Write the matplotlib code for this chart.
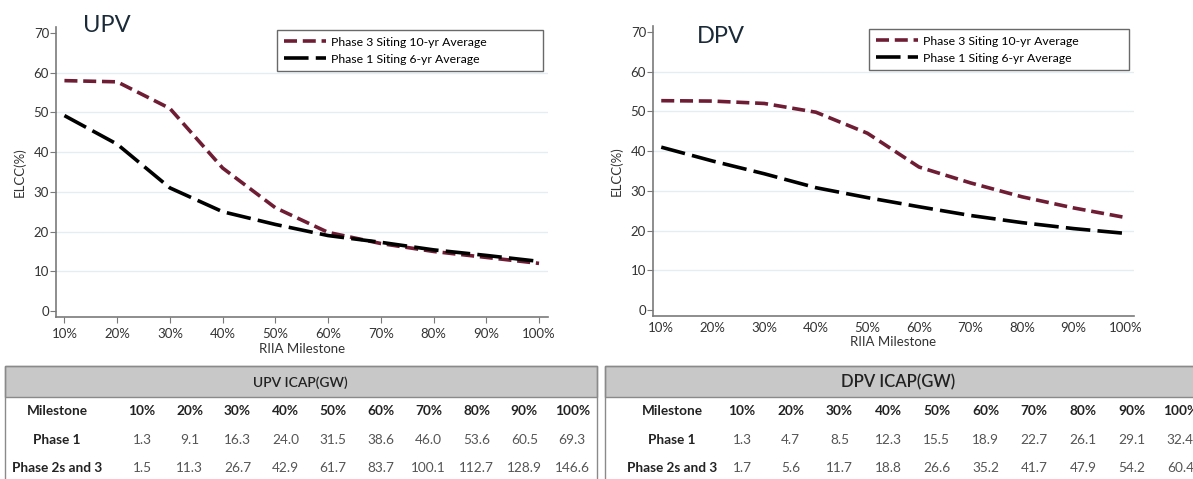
import matplotlib.pyplot as plt
from matplotlib.patches import Rectangle

plt.rcParams['font.family'] = ['Lato', 'DejaVu Sans']

milestones = [10, 20, 30, 40, 50, 60, 70, 80, 90, 100]
milestone_labels = ['10%', '20%', '30%', '40%', '50%', '60%', '70%', '80%', '90%', '100%']

# ELCC (%)
upv_phase3 = [58.0, 57.7, 51.0, 36.0, 26.0, 19.8, 17.0, 15.0, 13.5, 12.0]
upv_phase1 = [49.2, 42.0, 31.0, 25.0, 21.8, 19.0, 17.3, 15.4, 14.0, 12.5]
dpv_phase3 = [52.7, 52.6, 52.0, 49.8, 44.5, 36.0, 32.0, 28.5, 25.7, 23.3]
dpv_phase1 = [41.0, 37.5, 34.3, 30.8, 28.3, 26.0, 23.8, 22.0, 20.5, 19.3]

# ICAP (GW) tables
upv_icap_p1 = ['1.3', '9.1', '16.3', '24.0', '31.5', '38.6', '46.0', '53.6', '60.5', '69.3']
upv_icap_p23 = ['1.5', '11.3', '26.7', '42.9', '61.7', '83.7', '100.1', '112.7', '128.9', '146.6']
dpv_icap_p1 = ['1.3', '4.7', '8.5', '12.3', '15.5', '18.9', '22.7', '26.1', '29.1', '32.4']
dpv_icap_p23 = ['1.7', '5.6', '11.7', '18.8', '26.6', '35.2', '41.7', '47.9', '54.2', '60.4']

label_p3 = 'Phase 3 Siting 10-yr Average'
label_p1 = 'Phase 1 Siting 6-yr Average'

W, H = 1193, 479
fig = plt.figure(figsize=(W / 100, H / 100), dpi=100)

MAROON = '#6f1d35'
GRID = '#e4eef0'
SPINE = '#7a7a7a'
TXT = '#333333'


def px_axes(left, top, right, bottom):
    return fig.add_axes([left / W, 1 - bottom / H, (right - left) / W, (bottom - top) / H])


def draw_chart(ax, p3, p1, xticks_marks):
    ax.plot(milestones, p3, color=MAROON, lw=2.6, dashes=(3.6, 1.6), label=label_p3,
            dash_capstyle='butt')
    ax.plot(milestones, p1, color='black', lw=2.6, dashes=(6.8, 2.0), label=label_p1,
            dash_capstyle='butt')
    ax.set_xlim(8.4, 101.7)
    ax.set_ylim(-1.5, 71.5)
    ax.set_yticks(range(0, 80, 10))
    ax.set_xticks(milestones)
    ax.set_xticklabels(milestone_labels)
    for g in range(10, 70, 10):
        ax.axhline(g, color=GRID, lw=1.0, zorder=0)
    for s in ['top', 'right']:
        ax.spines[s].set_visible(False)
    for s in ['left', 'bottom']:
        ax.spines[s].set_color(SPINE)
        ax.spines[s].set_linewidth(1.2)
    ax.tick_params(axis='y', length=4, color=SPINE, labelsize=9.5, labelcolor=TXT, pad=1)
    ax.tick_params(axis='x', length=4 if xticks_marks else 0, color=SPINE,
                   labelsize=9.5, labelcolor=TXT, pad=4)
    ax.set_ylabel('ELCC(%)', fontsize=9.5, color=TXT, labelpad=6)
    ax.set_xlabel('RIIA Milestone', fontsize=9.5, color=TXT, labelpad=2)
    leg = ax.legend(loc='upper left', bbox_to_anchor=(0.449, 0.99, 0.541, 0.0),
                    mode='expand', fontsize=8.8,
                    frameon=True, fancybox=False, edgecolor='#444444',
                    handlelength=3.5, handletextpad=0.4, borderpad=0.55,
                    labelspacing=0.5, borderaxespad=0)
    leg.get_frame().set_linewidth(1.0)


ax1 = px_axes(56, 27, 548, 317)
draw_chart(ax1, upv_phase3, upv_phase1, True)
ax2 = px_axes(653, 26, 1134, 316)
draw_chart(ax2, dpv_phase3, dpv_phase1, False)

fig.text(83 / W, 1 - 32 / H, 'UPV', fontsize=17, color='#1b2a38', va='baseline')
fig.text(697 / W, 1 - 43 / H, 'DPV', fontsize=17, color='#1b2a38', va='baseline')

# tables, drawn on an overlay axes in pixel units
tab = fig.add_axes([0, 0, 1, 1])
tab.set_xlim(0, W)
tab.set_ylim(H, 0)
tab.axis('off')


def draw_table(x0, x1, title, title_x, row1, row2, label_x, col0, step, fs, hdr):
    top, hdr_bot = 366, 397
    tab.add_patch(Rectangle((x0, top), x1 - x0, hdr_bot - top, facecolor='#c8c8c8',
                            edgecolor='#8a8a8a', lw=1.0))
    tab.add_patch(Rectangle((x0, top), x1 - x0, H + 5 - top, facecolor='none',
                            edgecolor='#8a8a8a', lw=1.0))
    tab.text(title_x, (top + hdr_bot) / 2 + 1, title, fontsize=hdr, color='#222222',
             fontweight='semibold', ha='center', va='center')
    rows = [('Milestone', milestone_labels, 'bold', '#222222'),
            ('Phase 1', row1, 'normal', '#555555'),
            ('Phase 2s and 3', row2, 'normal', '#555555')]
    for r, (name, vals, w, c) in enumerate(rows):
        y = 411 + r * 28.5
        tab.text(label_x, y, name, fontsize=fs, fontweight='bold', color='#222222',
                 ha='center', va='center')
        for i, v in enumerate(vals):
            tab.text(col0 + i * step, y, v, fontsize=fs, fontweight=w, color=c,
                     ha='center', va='center')


draw_table(5, 597, 'UPV ICAP(GW)', 300, upv_icap_p1, upv_icap_p23, 57, 142, 47.8, 9.8, 10)
draw_table(605, 1200, 'DPV ICAP(GW)', 898, dpv_icap_p1, dpv_icap_p23, 672, 742, 48.7, 9.8, 12)

fig.savefig('out.png', dpi=100)
